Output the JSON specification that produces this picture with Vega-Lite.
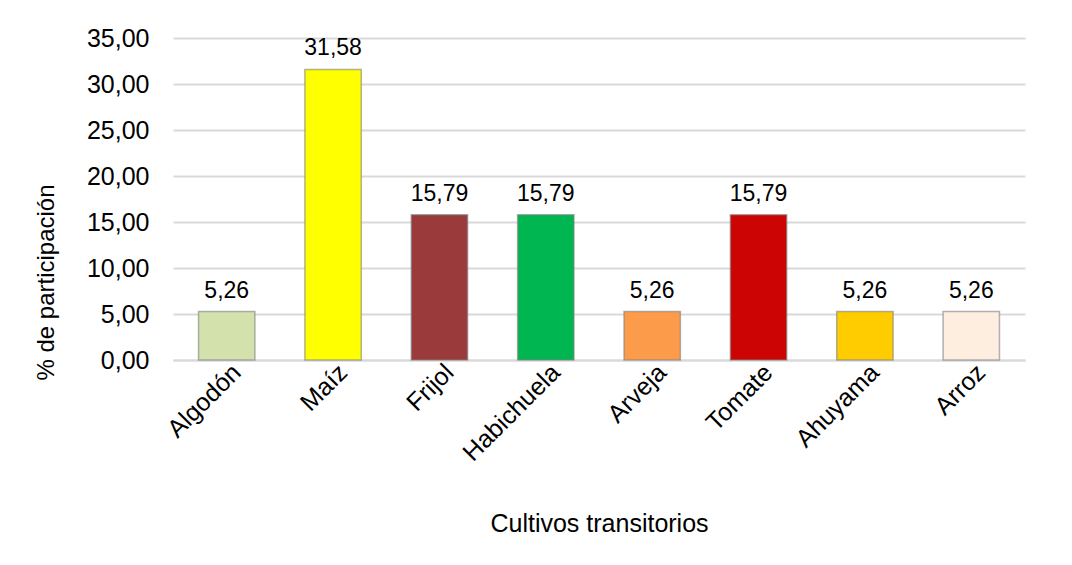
{
  "$schema": "https://vega.github.io/schema/vega-lite/v6.json",
  "autosize": {"type": "none"},
  "width": 852,
  "height": 322,
  "padding": {"left": 173, "top": 38, "right": 47, "bottom": 205},
  "background": "white",
  "config": {
    "locale": {"number": {"decimal": ",", "thousands": ".", "grouping": [3], "currency": ["$", ""]}},
    "view": {"stroke": null},
    "font": "Liberation Sans"
  },
  "data": {
    "values": [
      {"cultivo": "Algodón", "pct": 5.26, "color": "#D3E2AC"},
      {"cultivo": "Maíz", "pct": 31.58, "color": "#FFFF00"},
      {"cultivo": "Frijol", "pct": 15.79, "color": "#9B3A3A"},
      {"cultivo": "Habichuela", "pct": 15.79, "color": "#00B650"},
      {"cultivo": "Arveja", "pct": 5.26, "color": "#FC9C4A"},
      {"cultivo": "Tomate", "pct": 15.79, "color": "#CC0404"},
      {"cultivo": "Ahuyama", "pct": 5.26, "color": "#FFCC00"},
      {"cultivo": "Arroz", "pct": 5.26, "color": "#FDEEE0"}
    ]
  },
  "encoding": {
    "x": {
      "field": "cultivo", "type": "nominal", "sort": null,
      "scale": {"paddingInner": 0.47, "paddingOuter": 0.24},
      "axis": {
        "title": "Cultivos transitorios", "titleFontSize": 25, "titleFontWeight": "normal", "titleColor": "#000", "titlePadding": 46,
        "labelAngle": -45, "labelFontSize": 25, "labelColor": "#000", "labelAlign": "right", "labelBaseline": "middle",
        "labelPadding": 8, "labelOffset": 10, "ticks": false, "domainColor": "#D9D9D9", "domainWidth": 2
      }
    },
    "y": {
      "field": "pct", "type": "quantitative",
      "scale": {"domain": [0, 35]},
      "axis": {
        "title": "% de participación", "titleFontSize": 24, "titleFontWeight": "normal", "titleColor": "#000", "titlePadding": 28,
        "titleY": 244,
        "values": [0, 5, 10, 15, 20, 25, 30, 35], "format": ",.2f",
        "labelFontSize": 25, "labelColor": "#000", "labelPadding": 24,
        "ticks": false, "domain": false, "gridColor": "#D9D9D9", "gridWidth": 2
      }
    }
  },
  "layer": [
    {
      "mark": {"type": "bar", "stroke": "#808080", "strokeOpacity": 0.6, "strokeWidth": 1.5},
      "encoding": {"color": {"field": "color", "type": "nominal", "scale": null}}
    },
    {
      "mark": {"type": "text", "dy": -21, "fontSize": 23, "color": "#000", "baseline": "middle"},
      "encoding": {"text": {"field": "pct", "type": "quantitative", "format": ",.2f"}}
    }
  ]
}
